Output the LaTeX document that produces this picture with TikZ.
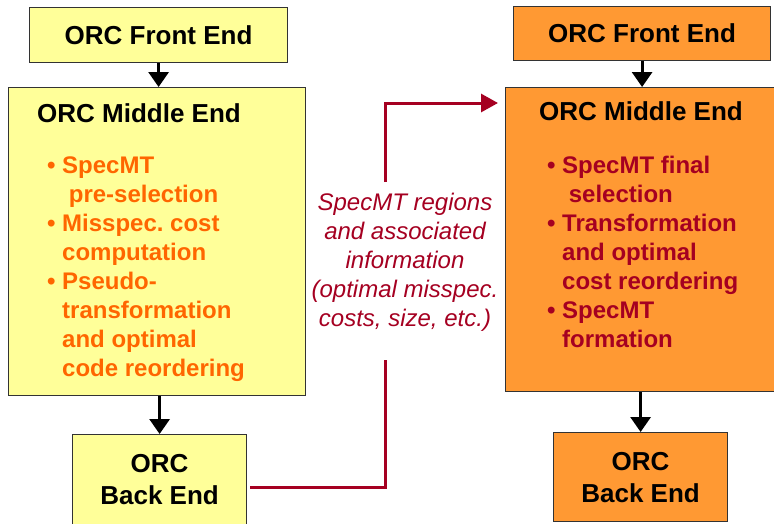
\documentclass[tikz,border=0pt]{standalone}
\usepackage{fontspec}
\setmainfont{Liberation Sans}
\usetikzlibrary{positioning, arrows.meta}
\definecolor{paleyellow}{HTML}{FFFF99}
\definecolor{paleorange}{HTML}{FF9933}
\definecolor{bulletorange}{HTML}{FF6600}
\definecolor{infored}{HTML}{A50021}
\newcommand{\bul}[0]{\makebox[15pt][l]{\textbullet}}
\newcommand{\ind}[0]{\hspace*{15pt}}
\frenchspacing

\begin{document}
\begin{tikzpicture}[
    x=1pt, y=-1pt,
    font=\fontsize{26}{32}\selectfont\bfseries,
    stage/.style={rectangle, draw=black!80, line width=1.2pt, anchor=north west, inner sep=0pt, align=center},
    items/.style={anchor=north west, inner sep=0pt, align=left, font=\fontsize{24}{29}\selectfont\bfseries},
    arrow/.style={-{Triangle[width=20pt, length=15pt]}, line width=3pt},
    infoline/.style={draw=infored, line width=3pt},
    infoarrow/.style={infoline, -{Triangle[width=18pt, length=17pt]}}
]
\useasboundingbox (0,0) rectangle (774,523);

% Left chain
\node[stage, fill=paleyellow, minimum width=258pt, minimum height=55pt] (lfront) at (29,7) {ORC Front End};
\node[stage, fill=paleyellow, minimum width=297pt, minimum height=308pt] (lmid) at (8,87) {};
\node[stage, fill=paleyellow, minimum width=174pt, minimum height=90pt] (lback) at (72,434) {ORC\\Back End};
\node[anchor=base west, inner sep=0pt] (ltitle) at (37,122) {ORC Middle End};
\node[items, text=bulletorange] (litems) at (47,157) {\bul SpecMT\\\ind\ pre-selection\\\bul Misspec. cost\\\ind computation\\\bul Pseudo-\\\ind transformation\\\ind and optimal\\\ind code reordering};

% Right chain
\node[stage, fill=paleorange, minimum width=257pt, minimum height=54pt] (rfront) at (513,6) {ORC Front End};
\node[stage, fill=paleorange, minimum width=272pt, minimum height=304pt] (rmid) at (505,87) {};
\node[stage, fill=paleorange, minimum width=174pt, minimum height=89pt] (rback) at (553,432) {ORC\\Back End};
\node[anchor=base west, inner sep=0pt] (rtitle) at (539,120) {ORC Middle End};
\node[items, text=infored] (ritems) at (547,156) {\bul SpecMT final\\\ind\ selection\\\bul Transformation\\\ind and optimal\\\ind cost reordering\\\bul SpecMT\\\ind formation};

% Stage arrows
\draw[arrow] (lfront.south) -- (lfront.south |- lmid.north);
\draw[arrow] (lmid.south -| lback.north) -- (lback.north);
\draw[arrow] (rfront.south) -- (rfront.south |- rmid.north);
\draw[arrow] (rmid.south -| rback.north) -- (rback.north);

% Information passed between the two passes
\node[anchor=north, inner sep=0pt, align=center, text=infored, font=\fontsize{24}{29}\selectfont\itshape] (info) at (405,193) {SpecMT regions\\and associated\\information\\(optimal misspec.\\costs, size, etc.)};
\coordinate (turnlow) at (385,487);
\coordinate (turnhigh) at (385,103);
\draw[infoline] ([xshift=3pt]lback.east |- turnlow) -- (turnlow) -- ([yshift=-28pt]info.south -| turnlow);
\draw[infoarrow] ([yshift=11pt]info.north -| turnhigh) -- (turnhigh) -- ([xshift=-7pt]rmid.west |- turnhigh);

\end{tikzpicture}
\end{document}
